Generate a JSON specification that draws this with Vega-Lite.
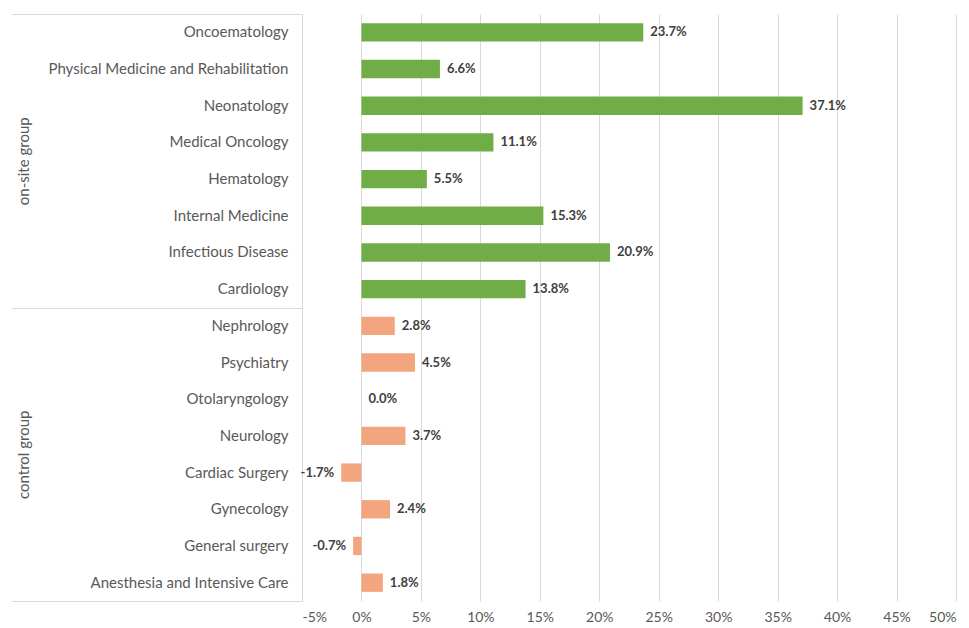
{
  "$schema": "https://vega.github.io/schema/vega-lite/v6.json",
  "width": 654,
  "height": 587,
  "padding": {"left": 10, "top": 13, "right": 5, "bottom": 5},
  "background": "white",
  "config": {
    "view": {"stroke": null},
    "font": "Lato",
    "locale": {"number": {"decimal": ".", "thousands": ",", "grouping": [3], "currency": ["$", ""], "minus": "-"}}
  },
  "data": {
    "values": [
      {"group": "on-site group", "dept": "Oncoematology", "value": 0.237},
      {"group": "on-site group", "dept": "Physical Medicine and Rehabilitation", "value": 0.066},
      {"group": "on-site group", "dept": "Neonatology", "value": 0.371},
      {"group": "on-site group", "dept": "Medical Oncology", "value": 0.111},
      {"group": "on-site group", "dept": "Hematology", "value": 0.055},
      {"group": "on-site group", "dept": "Internal Medicine", "value": 0.153},
      {"group": "on-site group", "dept": "Infectious Disease", "value": 0.209},
      {"group": "on-site group", "dept": "Cardiology", "value": 0.138},
      {"group": "control group", "dept": "Nephrology", "value": 0.028},
      {"group": "control group", "dept": "Psychiatry", "value": 0.045},
      {"group": "control group", "dept": "Otolaryngology", "value": 0.0},
      {"group": "control group", "dept": "Neurology", "value": 0.037},
      {"group": "control group", "dept": "Cardiac Surgery", "value": -0.017},
      {"group": "control group", "dept": "Gynecology", "value": 0.024},
      {"group": "control group", "dept": "General surgery", "value": -0.007},
      {"group": "control group", "dept": "Anesthesia and Intensive Care", "value": 0.018}
    ]
  },
  "resolve": {"scale": {"y": "independent"}, "axis": {"y": "independent"}},
  "layer": [
    {
      "encoding": {
        "y": {
          "field": "dept", "type": "nominal", "sort": null,
          "scale": {"paddingInner": 0.5, "paddingOuter": 0.25},
          "axis": {"title": null, "domain": false, "ticks": false, "labelPadding": 14, "labelFontSize": 15, "labelColor": "#595959", "labelFont": "Lato", "labelLimit": 400}
        },
        "x": {
          "field": "value", "type": "quantitative",
          "scale": {"domain": [-0.05, 0.5], "nice": false, "zero": false},
          "axis": {"title": null, "format": ".0%", "values": [-0.05, 0, 0.05, 0.1, 0.15, 0.2, 0.25, 0.3, 0.35, 0.4, 0.45, 0.5], "domain": false, "ticks": false, "grid": true, "gridColor": "#D9D9D9", "labelPadding": 9, "labelFontSize": 14, "labelColor": "#595959", "labelFont": "Lato"}
        }
      },
      "layer": [
        {
          "mark": {"type": "bar"},
          "encoding": {
            "color": {
              "field": "group", "type": "nominal",
              "scale": {"domain": ["on-site group", "control group"], "range": ["#70AD47", "#F2A57E"]},
              "legend": null
            }
          }
        },
        {
          "transform": [{"filter": "datum.value >= 0"}],
          "mark": {"type": "text", "align": "left", "baseline": "middle", "dx": 7, "fontSize": 13, "fontWeight": "bold", "color": "#404040", "font": "Lato"},
          "encoding": {
            "text": {"field": "value", "type": "quantitative", "format": ".1%"}
          }
        },
        {
          "transform": [{"filter": "datum.value < 0"}],
          "mark": {"type": "text", "align": "right", "baseline": "middle", "dx": -7, "fontSize": 13, "fontWeight": "bold", "color": "#404040", "font": "Lato"},
          "encoding": {
            "text": {"field": "value", "type": "quantitative", "format": ".1%"}
          }
        }
      ]
    },
    {
      "mark": {"type": "rule", "strokeOpacity": 0},
      "encoding": {
        "y": {
          "field": "group", "type": "nominal", "sort": ["on-site group", "control group"],
          "scale": {"paddingInner": 0, "paddingOuter": 0},
          "axis": {"orient": "left", "title": null, "domain": true, "domainColor": "#D9D9D9", "ticks": true, "tickBand": "extent", "tickSize": 291, "tickColor": "#D9D9D9", "labelAngle": -90, "labelAlign": "center", "labelBaseline": "middle", "labelPadding": -12, "labelFontSize": 15, "labelColor": "#595959", "labelFont": "Lato"}
        }
      }
    }
  ]
}
